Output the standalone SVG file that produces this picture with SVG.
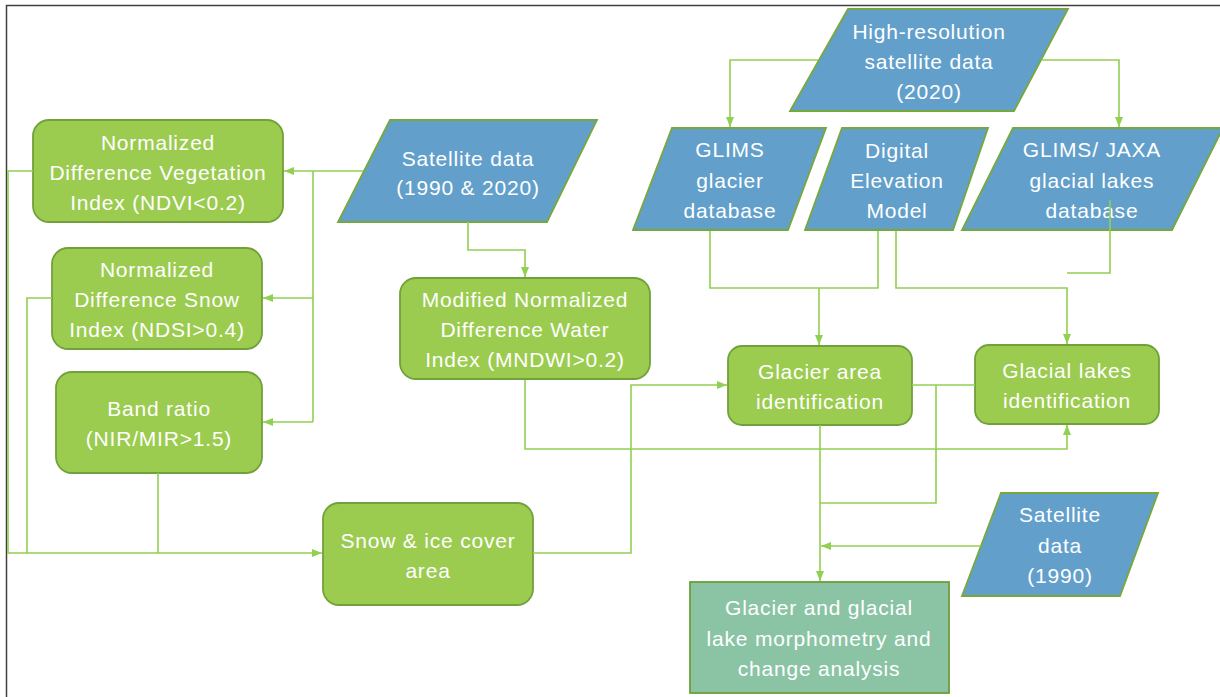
<svg xmlns="http://www.w3.org/2000/svg" width="1220" height="697" viewBox="0 0 1220 697">
<defs>
<style>
.box{fill:#9BCC50;stroke:#72A03A;stroke-width:1.8}
.data{fill:#62A0CB;stroke:#78A83C;stroke-width:1.8}
.final{fill:#8AC4A5;stroke:#6E9E3A;stroke-width:1.8}
.t{font-family:"Liberation Sans",Arial,sans-serif;font-size:21px;letter-spacing:0.8px;fill:#FFFFFF;text-anchor:middle}
.c{fill:none;stroke:#92D050;stroke-width:1.6}
</style>
<marker id="ah" markerUnits="userSpaceOnUse" markerWidth="10" markerHeight="10" viewBox="0 0 10 10" refX="10" refY="5" orient="auto">
<path d="M0,1 L10,5 L0,9 Z" fill="#92D050"/>
</marker>
</defs>
<rect x="6.5" y="5.5" width="1400" height="900" fill="#FFFFFF" stroke="#404040" stroke-width="1.5"/>
<g id="ndvi">
<rect class="box" x="33" y="120" width="250" height="102" rx="16"/>
<text class="t" x="158" y="150">Normalized</text>
<text class="t" x="158" y="180">Difference Vegetation</text>
<text class="t" x="158" y="210">Index (NDVI&lt;0.2)</text>
</g>
<g id="ndsi">
<rect class="box" x="52" y="248" width="210" height="101" rx="16"/>
<text class="t" x="157" y="277">Normalized</text>
<text class="t" x="157" y="307">Difference Snow</text>
<text class="t" x="157" y="337">Index (NDSI&gt;0.4)</text>
</g>
<g id="band-ratio">
<rect class="box" x="56" y="372" width="206" height="101" rx="16"/>
<text class="t" x="159" y="416">Band ratio</text>
<text class="t" x="159" y="446">(NIR/MIR&gt;1.5)</text>
</g>
<g id="satellite-1990-2020">
<polygon class="data" points="390,120 597,120 547,222 338,222"/>
<text class="t" x="468" y="166">Satellite data</text>
<text class="t" x="468" y="195">(1990 &amp; 2020)</text>
</g>
<g id="mndwi">
<rect class="box" x="400" y="278" width="250" height="101" rx="16"/>
<text class="t" x="525" y="307">Modified Normalized</text>
<text class="t" x="525" y="337">Difference Water</text>
<text class="t" x="525" y="367">Index (MNDWI&gt;0.2)</text>
</g>
<g id="snow-ice">
<rect class="box" x="323" y="503" width="210" height="102" rx="16"/>
<text class="t" x="428" y="548">Snow &amp; ice cover</text>
<text class="t" x="428" y="578">area</text>
</g>
<g id="high-res">
<polygon class="data" points="848,9 1068,9 1014,111 790,111"/>
<text class="t" x="929" y="39">High-resolution</text>
<text class="t" x="929" y="69">satellite data</text>
<text class="t" x="929" y="99">(2020)</text>
</g>
<g id="glims-glacier">
<polygon class="data" points="672,128 826,128 788,230 633,230"/>
<text class="t" x="730" y="157">GLIMS</text>
<text class="t" x="730" y="188">glacier</text>
<text class="t" x="730" y="218">database</text>
</g>
<g id="dem">
<polygon class="data" points="842,128 988,128 953,230 805,230"/>
<text class="t" x="897" y="158">Digital</text>
<text class="t" x="897" y="188">Elevation</text>
<text class="t" x="897" y="218">Model</text>
</g>
<g id="glims-jaxa">
<polygon class="data" points="1013,128 1223,128 1172,230 962,230"/>
<text class="t" x="1092" y="157">GLIMS/ JAXA</text>
<text class="t" x="1092" y="188">glacial lakes</text>
<text class="t" x="1092" y="218">database</text>
</g>
<g id="glacier-area">
<rect class="box" x="728" y="346" width="184" height="79" rx="14"/>
<text class="t" x="820" y="379">Glacier area</text>
<text class="t" x="820" y="409">identification</text>
</g>
<g id="glacial-lakes">
<rect class="box" x="975" y="345" width="184" height="79" rx="14"/>
<text class="t" x="1067" y="378">Glacial lakes</text>
<text class="t" x="1067" y="408">identification</text>
</g>
<g id="satellite-1990">
<polygon class="data" points="1001,493 1158,493 1120,596 962,596"/>
<text class="t" x="1060" y="522">Satellite</text>
<text class="t" x="1060" y="553">data</text>
<text class="t" x="1060" y="583">(1990)</text>
</g>
<g id="change-analysis">
<rect class="final" x="690" y="582" width="259" height="111"/>
<text class="t" x="819" y="615">Glacier and glacial</text>
<text class="t" x="819" y="646">lake morphometry and</text>
<text class="t" x="819" y="676">change analysis</text>
</g>
<g id="connectors">
<path class="c" d="M363,171 H284" marker-end="url(#ah)"/>
<path class="c" d="M313,171 V422"/>
<path class="c" d="M313,298 H263" marker-end="url(#ah)"/>
<path class="c" d="M313,422 H263" marker-end="url(#ah)"/>
<path class="c" d="M33,171 H8 V553 H322" marker-end="url(#ah)"/>
<path class="c" d="M52,298 H27 V553"/>
<path class="c" d="M158,473 V553"/>
<path class="c" d="M468,222 V250 H525 V277" marker-end="url(#ah)"/>
<path class="c" d="M533,553 H631 V385 H727" marker-end="url(#ah)"/>
<path class="c" d="M525,380 V449 H1067 V425" marker-end="url(#ah)"/>
<path class="c" d="M818,60 H730 V127" marker-end="url(#ah)"/>
<path class="c" d="M1041,60 H1119 V127" marker-end="url(#ah)"/>
<path class="c" d="M710,231 V288 H878 V231"/>
<path class="c" d="M819,288 V345" marker-end="url(#ah)"/>
<path class="c" d="M896,231 V288 H1067 V344" marker-end="url(#ah)"/>
<path class="c" d="M1110,200 V273 H1067"/>
<path class="c" d="M912,385 H975"/>
<path class="c" d="M936,385 V503 H820"/>
<path class="c" d="M820,425 V581" marker-end="url(#ah)"/>
<path class="c" d="M981,546 H821" marker-end="url(#ah)"/>
</g>
</svg>
